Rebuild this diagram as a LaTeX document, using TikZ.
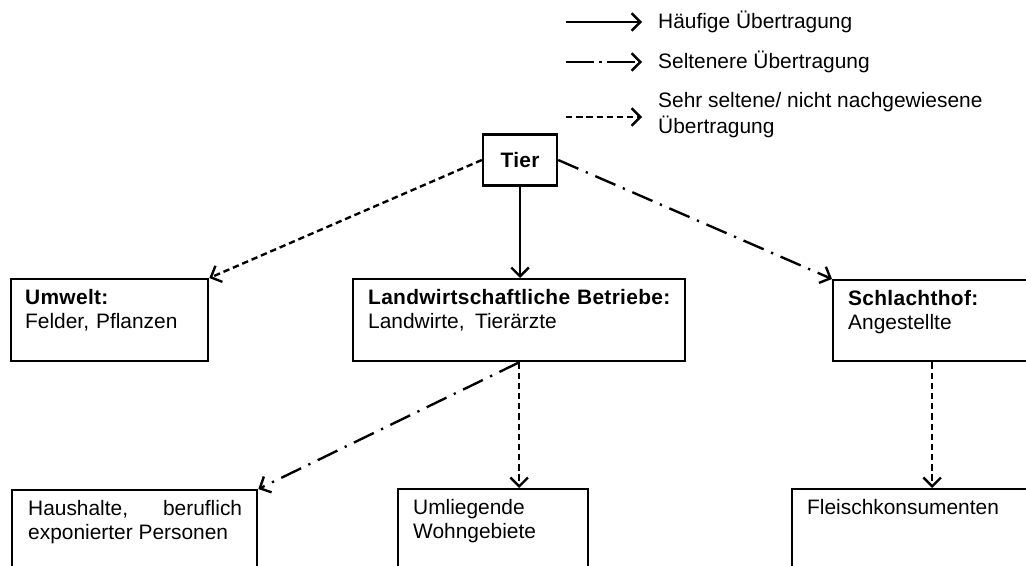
\documentclass[tikz,border=0pt]{standalone}
\usepackage{fontspec}
\setmainfont{Liberation Sans}
\usetikzlibrary{shapes,arrows.meta,positioning}

\newcommand\fett[1]{{\bfseries\addfontfeature{LetterSpace=1.5}#1}}

\tikzset{
  box/.style={draw, rectangle, inner sep=0pt, anchor=north west},
  boxtext/.style={anchor=base west, inner sep=0pt, align=left,
    font=\fontsize{11.9}{13.9}\selectfont},
  oft/.style={draw, -{Straight Barb[length=5pt,width=10pt]}},
  selten/.style={oft, dash pattern=on 12.5pt off 4.6pt on 1.3pt off 4.6pt},
  sehrselten/.style={oft, dash pattern=on 3.6pt off 2.2pt},
}

\begin{document}
\begin{tikzpicture}[x=0.02cm, y=-0.02cm, line width=1.35pt]
\useasboundingbox (0,0) rectangle (1026,565);
\clip (0,0) rectangle (1026,565);

% legend
\coordinate (l1s) at (566,22);  \coordinate (l1e) at (642,22);
\coordinate (l2s) at (566,62);  \coordinate (l2e) at (642,62);
\coordinate (l3s) at (566,117); \coordinate (l3e) at (642,117);
\draw[oft] (l1s) -- (l1e);
\draw[selten, dash pattern=on 16pt off 3pt on 1.3pt off 3pt] (l2s) -- (l2e);
\draw[sehrselten] (l3s) -- (l3e);
\node[boxtext, anchor=west] (leg1) at (657,22) {Häufige Übertragung};
\node[boxtext, anchor=west] (leg2) at (657,62) {Seltenere Übertragung};
\node[boxtext, anchor=west, font=\fontsize{11.9}{14.6}\selectfont] (leg3) at (657,115)
  {Sehr seltene/ nicht nachgewiesene\\Übertragung};

% boxes
\node[draw, inner sep=0pt, minimum width=1.48cm, minimum height=1.02cm,
  font=\fontsize{11.9}{13.9}\selectfont] (tier) at (520,160) {\fett{Tier}};

\node[box, minimum width=3.94cm, minimum height=1.64cm] (umwelt) at (10,278) {};
\node[box, minimum width=6.64cm, minimum height=1.64cm] (betriebe) at (352,278) {};
\node[box, minimum width=3.96cm, minimum height=1.62cm] (schlachthof) at (832,279) {};
\node[box, minimum width=4.9cm, minimum height=1.9cm] (haushalte) at (11,489) {};
\node[box, minimum width=3.8cm, minimum height=1.9cm] (wohngebiete) at (397,488) {};
\node[box, minimum width=5cm, minimum height=1.9cm] (konsumenten) at (791,488) {};

\node[boxtext, text width=3.4cm] (umwelttxt) at ([shift={(14,26)}]umwelt.north west)
  {\fett{Umwelt:}\\Felder, Pflanzen};
\node[boxtext, text width=6.2cm] (betriebetxt) at ([shift={(15,26)}]betriebe.north west)
  {\fett{Landwirtschaftliche Betriebe:}\\Landwirte,\, Tierärzte};
\node[boxtext, text width=3.4cm] (schlachthoftxt) at ([shift={(15,26)}]schlachthof.north west)
  {\fett{Schlachthof:}\\Angestellte};
\node[boxtext, text width=4.28cm, align=justify] (haushaltetxt) at ([shift={(16,26)}]haushalte.north west)
  {Haushalte, beruflich exponierter Personen};
\node[boxtext, text width=3.4cm] (wohngebietetxt) at ([shift={(15,26)}]wohngebiete.north west)
  {Umliegende\\Wohngebiete};
\node[boxtext, text width=4.4cm] (konsumententxt) at ([shift={(15,26)}]konsumenten.north west)
  {Fleischkonsumenten};

% connectors
\draw[sehrselten] (tier.west) -- (umwelt.north east);
\draw[oft] (tier.south) -- (tier.south |- betriebe.north);
\draw[selten] (tier.east) -- (schlachthof.north west);
\draw[selten] (betriebe.south) -- (haushalte.north east);
\draw[sehrselten] (betriebe.south) -- (betriebe.south |- wohngebiete.north);
\draw[sehrselten] (schlachthof.south) -- (schlachthof.south |- konsumenten.north);
\end{tikzpicture}
\end{document}
